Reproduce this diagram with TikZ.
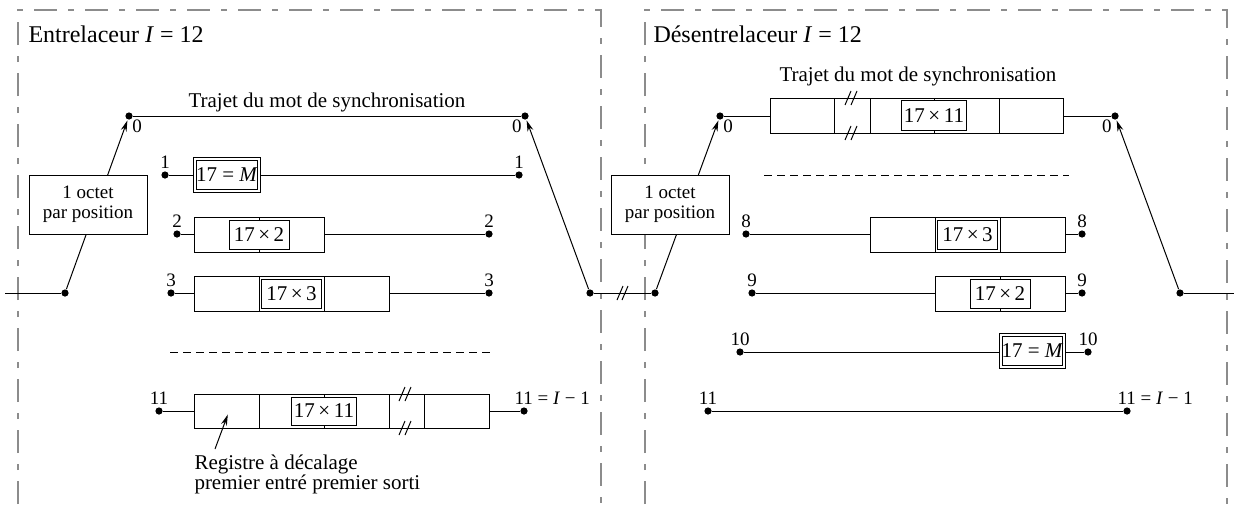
\documentclass[tikz,border=0pt]{standalone}
\usepackage{fontspec}
\setmainfont{Liberation Serif}
\usetikzlibrary{arrows,arrows.meta,positioning}

\begin{document}
\begin{tikzpicture}[
x=0.5pt, y=-0.5pt,
font=\fontsize{10.5}{10}\selectfont,
line width=0.5pt,
frame/.style={draw=gray!90, line width=0.8pt, dash pattern=on 11.5pt off 5.5pt on 3pt off 5.5pt},
sepline/.style={dash pattern=on 4pt off 2.5pt},
port/.style={circle, fill, inner sep=0pt, minimum size=3.6pt},
num/.style={font=\fontsize{9.5}{10}\selectfont, inner sep=1pt},
cellbox/.style={draw, fill=white, inner sep=1pt, minimum width=30pt, minimum height=14.5pt},
dcellbox/.style={draw, double, double distance=1pt, fill=white, inner sep=0.5pt, minimum width=31pt, minimum height=16pt},
octet/.style={draw, fill=white, align=center, font=\fontsize{9.5}{10}\selectfont, minimum width=59pt, minimum height=29.5pt},
commut/.style={-{Stealth[length=5.5pt,width=3pt]}, shorten >=0.3pt}
]
    \useasboundingbox (0,0) rectangle (1234,504);

    % Draw frames
    \draw[frame] (18,504) -- (18,10) -- (601,10) -- (601,504);
    \draw[frame] (645,504) -- (645,10) -- (1227,10) -- (1227,504);

    \node[anchor=base west, inner sep=0pt, font=\fontsize{12}{12}\selectfont] (titleL) at (28,42) {Entrelaceur \textit{I} = 12};
    \node[anchor=base west, inner sep=0pt, font=\fontsize{12}{12}\selectfont] (titleR) at (653,42) {Désentrelaceur \textit{I} = 12};

    % Entrelaceur: ports
    \coordinate (inL) at (5,293);
    \node[port] (swL) at (65,293) {};
    \node[port] (s0a) at (129,116) {};
    \node[port] (s0b) at (525,116) {};
    \node[port] (r1a) at (165,175) {};
    \node[port] (r1b) at (519,175) {};
    \node[port] (r2a) at (177,234) {};
    \node[port] (r2b) at (489,234) {};
    \node[port] (r3a) at (171,293) {};
    \node[port] (r3b) at (489,293) {};
    \node[port] (r11a) at (159,411) {};
    \node[port] (r11b) at (524,411) {};
    \node[port] (swR) at (590,293) {};

    % Desentrelaceur: ports
    \node[port] (dswL) at (655,293) {};
    \node[port] (t0a) at (720,116) {};
    \node[port] (t0b) at (1115,116) {};
    \node[port] (t8a) at (746,234) {};
    \node[port] (t8b) at (1082,234) {};
    \node[port] (t9a) at (752,293) {};
    \node[port] (t9b) at (1082,293) {};
    \node[port] (t10a) at (740,352) {};
    \node[port] (t10b) at (1088,352) {};
    \node[port] (t11a) at (708,411) {};
    \node[port] (t11b) at (1127,411) {};
    \node[port] (dswR) at (1180,293) {};
    \coordinate (outR) at (1234,293);

    % Lines
    \draw (inL) -- (swL);
    \draw[commut] (swL) -- (s0a);
    \draw (s0a) -- (s0b);
    \draw (r1a) -- (r1b);
    \draw (r2a) -- (r2b);
    \draw (r3a) -- (r3b);
    \draw (r11a) -- (r11b);
    \draw[commut] (swR) -- (s0b);
    \draw (swR) -- (dswL);
    \draw (617,300) -- ++(6,-14) (622,300) -- ++(6,-14);

    \draw[commut] (dswL) -- (t0a);
    \draw (t0a) -- (t0b);
    \draw (t8a) -- (t8b);
    \draw (t9a) -- (t9b);
    \draw (t10a) -- (t10b);
    \draw (t11a) -- (t11b);
    \draw[commut] (dswR) -- (t0b);
    \draw (dswR) -- (outR);

    \node[octet] (octL) at (88,204.5) {1 octet\\par position};
    \node[octet] (octR) at (670,204.5) {1 octet\\par position};

    % Registres entrelaceur
    \node[dcellbox] (m1) at (227,175) {17 = \textit{M}};

    \draw[fill=white] (194,217) rectangle (324,252);
    \draw (259,217) -- (259,252);
    \node[cellbox] (c2) at (259,234.5) {17\,×\,2};

    \draw[fill=white] (194,276) rectangle (389,311);
    \draw (259,276) -- (259,311) (324,276) -- (324,311);
    \node[cellbox] (c3) at (291.5,293.5) {17\,×\,3};

    \draw[sepline] (170,352) -- (490,352);

    \draw[fill=white] (194,394) rectangle (489,428);
    \draw (259,394) -- (259,428) (324,394) -- (324,428) (389,394) -- (389,428) (424,394) -- (424,428);
    \node[cellbox, minimum height=14pt] (c11) at (324,411) {17\,×\,11};
    \draw (399,401) -- ++(6,-14) (405,401) -- ++(6,-14);
    \draw (399,435) -- ++(6,-14) (405,435) -- ++(6,-14);

    \node[anchor=north west, align=left, inner sep=0pt] (reg) at (194,454) {Registre à décalage\\premier entré premier sorti};
    \coordinate (regtail) at (215,449);
    \coordinate (regtip) at (228,414);
    \draw[commut] (regtail) -- (regtip);

    % Registres desentrelaceur
    \draw[fill=white] (770,98) rectangle (1063,133);
    \draw (834,98) -- (834,133) (870,98) -- (870,133) (934,98) -- (934,133) (999,98) -- (999,133);
    \node[cellbox, minimum height=15pt] (d0) at (934,115.5) {17\,×\,11};
    \draw (845,105) -- ++(6,-14) (851,105) -- ++(6,-14);
    \draw (845,140) -- ++(6,-14) (851,140) -- ++(6,-14);

    \draw[sepline] (764,175) -- (1069,175);

    \draw[fill=white] (870,217) rectangle (1065,252);
    \draw (935,217) -- (935,252) (1000,217) -- (1000,252);
    \node[cellbox] (d8) at (967.5,234.5) {17\,×\,3};

    \draw[fill=white] (935,276) rectangle (1065,311);
    \draw (1000,276) -- (1000,311);
    \node[cellbox] (d9) at (1000,293.5) {17\,×\,2};

    \node[dcellbox] (d10) at (1032.5,351) {17 = \textit{M}};

    \node (trajL) at (327,102) {Trajet du mot de synchronisation};
    \node (trajR) at (918,76) {Trajet du mot de synchronisation};

    % Numeros des branches
    \node[num, below right=-1pt and -1pt of s0a] (n0a) {0};
    \node[num, below left=-1pt and -1pt of s0b] (n0b) {0};
    \node[num, above=0pt of r1a] (n1a) {1};
    \node[num, above=0pt of r1b] (n1b) {1};
    \node[num, above=0pt of r2a] (n2a) {2};
    \node[num, above=0pt of r2b] (n2b) {2};
    \node[num, above=0pt of r3a] (n3a) {3};
    \node[num, above=0pt of r3b] (n3b) {3};
    \node[num, above=0pt of r11a] (n11a) {11};
    \node[num, anchor=south west] (n11b) at ([xshift=-6pt]r11b.north) {11 = \textit{I} − 1};

    \node[num, below right=-1pt and -1pt of t0a] (m0a) {0};
    \node[num, below left=-1pt and -1pt of t0b] (m0b) {0};
    \node[num, above=0pt of t8a] (m8a) {8};
    \node[num, above=0pt of t8b] (m8b) {8};
    \node[num, above=0pt of t9a] (m9a) {9};
    \node[num, above=0pt of t9b] (m9b) {9};
    \node[num, above=0pt of t10a] (m10a) {10};
    \node[num, above=0pt of t10b] (m10b) {10};
    \node[num, above=0pt of t11a] (m11a) {11};
    \node[num, anchor=south west] (m11b) at ([xshift=-6pt]t11b.north) {11 = \textit{I} − 1};

\end{tikzpicture}
\end{document}
